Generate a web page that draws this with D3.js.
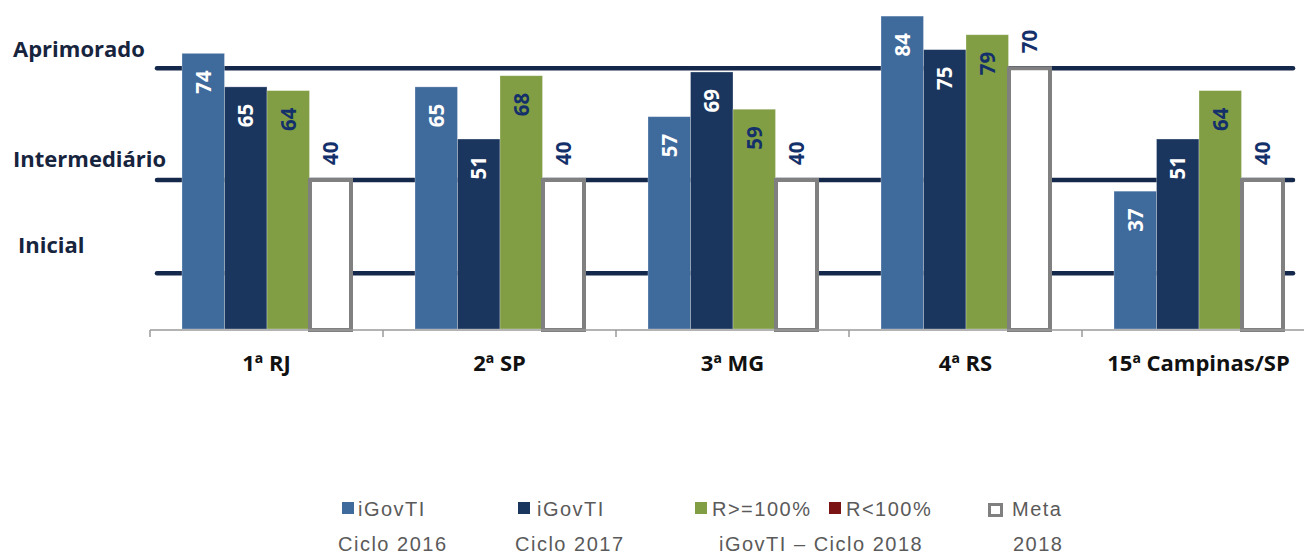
<!DOCTYPE html>
<html>
<head>
<meta charset="utf-8">
<script src="https://cdn.jsdelivr.net/npm/d3@7"></script>
<style>
  html, body { margin: 0; padding: 0; background: #ffffff; }
  svg { display: block; }
</style>
</head>
<body>
<svg id="chart" width="1304" height="556"></svg>
<script>
// Regions and index values per cycle
const categories = ["1ª RJ", "2ª SP", "3ª MG", "4ª RS", "15ª Campinas/SP"];
const ciclo2016 = [74, 65, 57, 84, 37];
const ciclo2017 = [65, 51, 69, 75, 51];
const ciclo2018 = [64, 68, 59, 79, 64];
const meta2018  = [40, 40, 40, 70, 40];

// Maturity bands: reference lines and their names
const levelLines = [15, 40, 70];
const levelNames = ["Inicial", "Intermediário", "Aprimorado"];

const seriesKeys = ["c2016", "c2017", "c2018", "meta"];
const colors = { c2016: "#3F6A9C", c2017: "#1B365E", c2018: "#829E45", meta: "#ffffff", red: "#7A1414" };
const labelNavy = "#13306A";

const svg = d3.select("#chart");

const baseY = 329;
const y = d3.scaleLinear().domain([0, 84]).range([baseY, baseY - 84 * 3.725]);

const x0 = d3.scaleBand().domain(categories).range([150, 1315]).padding(0);
const x1 = d3.scaleBand().domain(seriesKeys).range([32, 202]).padding(0);

// Maturity reference lines (behind bars)
svg.append("g").selectAll("line").data(levelLines).join("line")
  .attr("x1", 157).attr("x2", 1293)
  .attr("y1", d => y(d)).attr("y2", d => y(d))
  .attr("stroke", "#14284B").attr("stroke-width", 4.5).attr("stroke-linecap", "round");

// Level names on the left
const levelPos = [
  { name: levelNames[2], x: 13, y: 57 },
  { name: levelNames[1], x: 13, y: 167 },
  { name: levelNames[0], x: 18, y: 253 }
];
svg.append("g").selectAll("text").data(levelPos).join("text")
  .attr("x", d => d.x).attr("y", d => d.y)
  .attr("font-family", "'Open Sans', sans-serif").attr("font-weight", 700)
  .attr("font-size", 22).attr("fill", "#17243D")
  .text(d => d.name);

// Rows for the grouped bars
const rows = categories.map((c, i) => ({
  cat: c,
  vals: [
    { key: "c2016", v: ciclo2016[i] },
    { key: "c2017", v: ciclo2017[i] },
    { key: "c2018", v: ciclo2018[i] },
    { key: "meta",  v: meta2018[i] }
  ]
}));

const groups = svg.append("g").selectAll("g").data(rows).join("g")
  .attr("transform", d => `translate(${x0(d.cat)},0)`);

const isMeta = d => d.key === "meta";

groups.selectAll("rect").data(d => d.vals).join("rect")
  .attr("x", d => x1(d.key) + (isMeta(d) ? 0.5 : 0))
  .attr("width", d => x1.bandwidth() - (isMeta(d) ? 1.5 : 0))
  .attr("y", d => y(d.v))
  .attr("height", d => baseY - y(d.v) + (isMeta(d) ? 1 : 0))
  .attr("fill", d => colors[d.key])
  .attr("stroke", d => isMeta(d) ? "#808080" : "rgba(255,255,255,0.35)")
  .attr("stroke-width", d => isMeta(d) ? 4 : 0.8);

// Value labels, rotated
groups.selectAll("text").data(d => d.vals).join("text")
  .attr("transform", d => {
    const cx = x1(d.key) + x1.bandwidth() / 2;
    const ty = isMeta(d) ? y(d.v) - 15 : y(d.v) + 17;
    return `translate(${cx},${ty}) rotate(-90)`;
  })
  .attr("text-anchor", d => isMeta(d) ? "start" : "end")
  .attr("dy", "0.36em")
  .attr("font-family", "'Open Sans', sans-serif").attr("font-weight", 700)
  .attr("font-size", 20.5)
  .attr("fill", d => (d.key === "c2016" || d.key === "c2017") ? "#ffffff" : labelNavy)
  .text(d => d.v);

// Category axis
const axis = svg.append("g");
axis.append("line")
  .attr("x1", 150).attr("x2", 1304).attr("y1", baseY + 1).attr("y2", baseY + 1)
  .attr("stroke", "#9a9a9a").attr("stroke-width", 1.5);
const tickXs = categories.map(c => x0(c)).concat([x0.range()[1]]);
axis.selectAll("line.tick").data(tickXs).join("line").attr("class", "tick")
  .attr("x1", d => d).attr("x2", d => d)
  .attr("y1", baseY + 1).attr("y2", baseY + 8)
  .attr("stroke", "#9a9a9a").attr("stroke-width", 1.5);
axis.selectAll("text").data(categories).join("text")
  .attr("x", d => x0(d) + x0.bandwidth() / 2).attr("y", 371)
  .attr("text-anchor", "middle")
  .attr("font-family", "'Open Sans', sans-serif").attr("font-weight", 700)
  .attr("font-size", 22).attr("fill", "#111111")
  .text(d => d);

// Legend
const legendFont = "'Liberation Sans', Arial, sans-serif";
const legendSwatches = [
  { x: 342, fill: colors.c2016 },
  { x: 518, fill: colors.c2017 },
  { x: 695, fill: colors.c2018 },
  { x: 829, fill: colors.red }
];
const legend = svg.append("g");
legend.selectAll("rect.sw").data(legendSwatches).join("rect").attr("class", "sw")
  .attr("x", d => d.x).attr("y", 502).attr("width", 12).attr("height", 12)
  .attr("fill", d => d.fill);
legend.append("rect")
  .attr("x", 989.5).attr("y", 504.5).attr("width", 12).attr("height", 11)
  .attr("fill", "#ffffff").attr("stroke", "#808080").attr("stroke-width", 3);

const legendTexts = [
  { x: 358, y: 516, t: "iGovTI" },
  { x: 537, y: 516, t: "iGovTI" },
  { x: 712, y: 516, t: "R>=100%" },
  { x: 846, y: 516, t: "R<100%" },
  { x: 1012, y: 516, t: "Meta" },
  { x: 338, y: 551, t: "Ciclo 2016" },
  { x: 515, y: 551, t: "Ciclo 2017" },
  { x: 719, y: 551, t: "iGovTI – Ciclo 2018" },
  { x: 1013, y: 551, t: "2018" }
];
legend.selectAll("text").data(legendTexts).join("text")
  .attr("x", d => d.x).attr("y", d => d.y)
  .attr("font-family", legendFont).attr("font-size", 20)
  .attr("letter-spacing", "1.5px")
  .attr("fill", "#5a5a5a")
  .text(d => d.t);
</script>
</body>
</html>
